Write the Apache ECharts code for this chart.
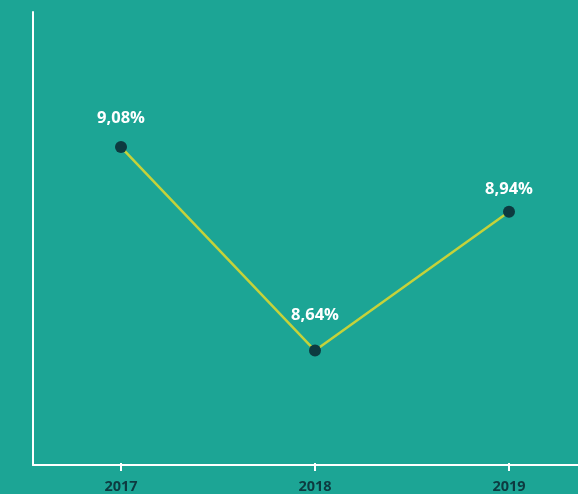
<!DOCTYPE html>
<html><head><meta charset="utf-8">
<script src="https://cdn.jsdelivr.net/npm/echarts@6/dist/echarts.min.js"></script>
<style>html,body{margin:0;padding:0;background:#1ca595;}#c{width:578px;height:494px;}</style>
</head><body><div id="c"></div>
<script>
const categories = ['2017', '2018', '2019'];
const values = [9.08, 8.64, 8.94];
const labels = ['9,08%', '8,64%', '8,94%'];

const chart = echarts.init(document.getElementById('c'));
const font = '"Open Sans", sans-serif';
const labelShift = [-1, -8, 5];
chart.setOption({
  backgroundColor: '#1ca595',
  animation: false,
  grid: [
    {left: 33, right: 0, top: 12, bottom: 29},
    {left: 121, right: 69, top: 12, bottom: 29}
  ],
  xAxis: [
    {gridIndex: 0, type: 'value', min: 0, max: 1, axisLine: {show: true, lineStyle: {color: '#ffffff', width: 2}},
     axisTick: {show: false}, axisLabel: {show: false}, splitLine: {show: false}},
    {gridIndex: 1, type: 'category', data: categories, boundaryGap: false,
     axisLine: {show: false}, axisTick: {show: true, length: 8, lineStyle: {color: '#ffffff', width: 2}},
     axisLabel: {color: '#0d3a40', fontWeight: 'bold', fontSize: 14.5, fontFamily: font, margin: 16},
     splitLine: {show: false}}
  ],
  yAxis: [
    {gridIndex: 0, type: 'value', min: 0, max: 1, axisLine: {show: true, lineStyle: {color: '#ffffff', width: 2}},
     axisTick: {show: false}, axisLabel: {show: false}, splitLine: {show: false}},
    {gridIndex: 1, type: 'value', min: 8.397, max: 9.372, show: false, splitLine: {show: false}}
  ],
  series: [{
    type: 'line',
    xAxisIndex: 1, yAxisIndex: 1,
    data: values.map((v, i) => ({value: v, label: {offset: [0, labelShift[i]]}})),
    symbol: 'circle', symbolSize: 12,
    lineStyle: {color: '#c5d23a', width: 2.5},
    itemStyle: {color: '#0d3a40'},
    label: {show: true, position: 'top', distance: 13, color: '#ffffff', fontWeight: 'bold', fontSize: 16.5, fontFamily: font,
      formatter: p => labels[p.dataIndex]}
  }]
});
</script></body></html>
